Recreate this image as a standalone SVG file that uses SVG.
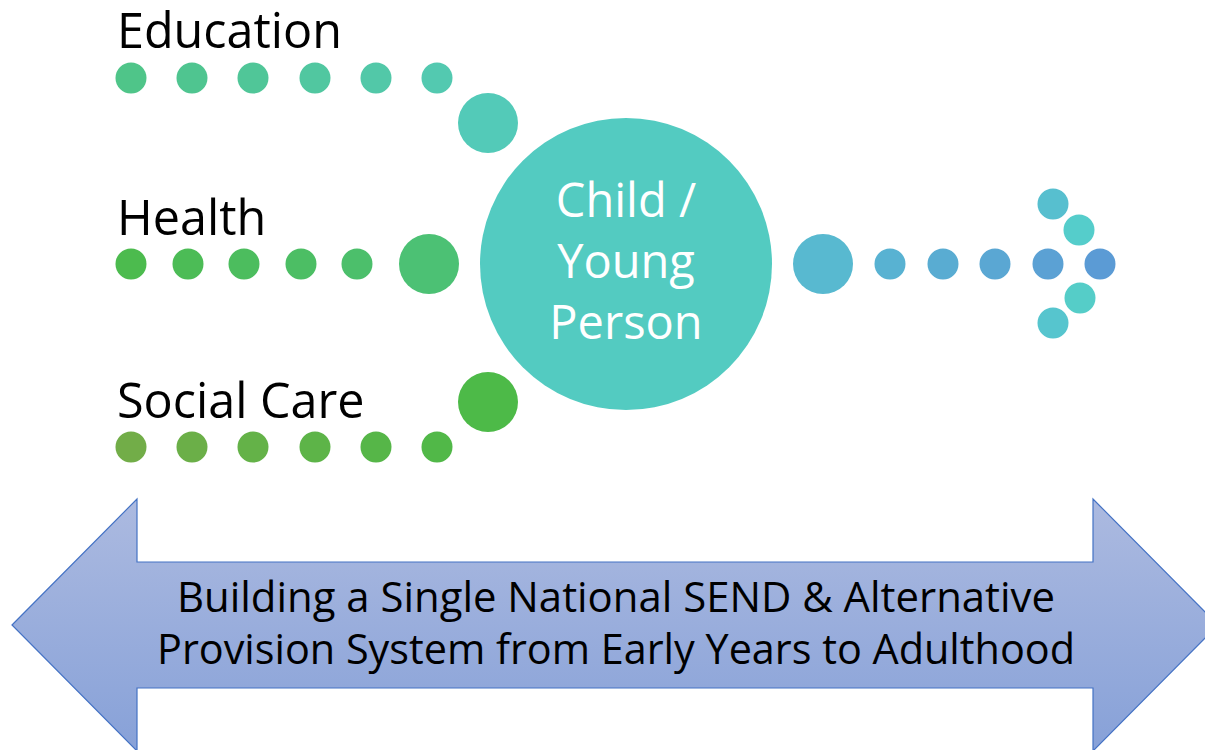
<svg xmlns="http://www.w3.org/2000/svg" width="1205" height="750" viewBox="0 0 1205 750">
<style>
.lbl{font-family:"Open Sans","Noto Sans","Liberation Sans",sans-serif;font-size:48.5px;fill:#000}
.ctr{font-family:"Open Sans","Noto Sans","Liberation Sans",sans-serif;font-size:47px;fill:#fff;text-anchor:middle}
.ban{font-family:"Open Sans","Noto Sans","Liberation Sans",sans-serif;font-size:41.5px;fill:#000;text-anchor:middle}
.d{stroke:none}
</style>
<defs>
<linearGradient id="arrowGrad" x1="0" y1="499" x2="0" y2="751" gradientUnits="userSpaceOnUse">
<stop offset="0" stop-color="#ACBAE0"/>
<stop offset="1" stop-color="#87A1D8"/>
</linearGradient>
</defs>
<rect width="1205" height="750" fill="#fff"/>

<g id="banner">
<polygon points="12,625 137,499 137,562 1093,562 1093,499 1218,625 1093,751 1093,688 137,688 137,751" fill="url(#arrowGrad)" stroke="#4472C4" stroke-width="1.2"/>
<text class="ban" x="616" y="612" textLength="878" lengthAdjust="spacingAndGlyphs">Building a Single National SEND &amp; Alternative</text>
<text class="ban" x="616" y="664" textLength="918" lengthAdjust="spacingAndGlyphs">Provision System from Early Years to Adulthood</text>
</g>

<g id="connectors">
<g id="education-dots">
<circle class="d" cx="131" cy="78" r="15.5" fill="#4FC589"/>
<circle class="d" cx="192" cy="78" r="15.5" fill="#4FC590"/>
<circle class="d" cx="253" cy="78" r="15.5" fill="#50C698"/>
<circle class="d" cx="315" cy="78" r="15.5" fill="#51C7A0"/>
<circle class="d" cx="376" cy="78" r="15.5" fill="#52C8A8"/>
<circle class="d" cx="437" cy="78" r="15.5" fill="#53C9B0"/>
<circle class="d" cx="488" cy="123" r="30" fill="#53CAB8"/>
</g>
<g id="health-dots">
<circle class="d" cx="131" cy="264" r="15.5" fill="#4CBB4E"/>
<circle class="d" cx="188" cy="264" r="15.5" fill="#4CBC56"/>
<circle class="d" cx="244" cy="264" r="15.5" fill="#4CBD5E"/>
<circle class="d" cx="301" cy="264" r="15.5" fill="#4CBE64"/>
<circle class="d" cx="357" cy="264" r="15.5" fill="#4CBF6B"/>
<circle class="d" cx="429" cy="264" r="30" fill="#4CC174"/>
</g>
<g id="socialcare-dots">
<circle class="d" cx="131" cy="447" r="15.5" fill="#72AD48"/>
<circle class="d" cx="192" cy="447" r="15.5" fill="#6BAF48"/>
<circle class="d" cx="253" cy="447" r="15.5" fill="#64B248"/>
<circle class="d" cx="315" cy="447" r="15.5" fill="#5DB448"/>
<circle class="d" cx="376" cy="447" r="15.5" fill="#56B648"/>
<circle class="d" cx="437" cy="447" r="15.5" fill="#51B848"/>
<circle class="d" cx="488" cy="402" r="30" fill="#4DBA48"/>
</g>
<g id="output-dots">
<circle class="d" cx="823" cy="264" r="30" fill="#58B9D0"/>
<circle class="d" cx="890" cy="264" r="15.5" fill="#58B2D2"/>
<circle class="d" cx="943" cy="264" r="15.5" fill="#59ACD2"/>
<circle class="d" cx="995" cy="264" r="15.5" fill="#5AA7D3"/>
<circle class="d" cx="1048" cy="264" r="15.5" fill="#5BA1D4"/>
<circle class="d" cx="1100" cy="264" r="15.5" fill="#5B9BD5"/>
<circle class="d" cx="1053" cy="204" r="15.5" fill="#57BFCF"/>
<circle class="d" cx="1079" cy="230" r="15.5" fill="#55CDCB"/>
<circle class="d" cx="1080" cy="298" r="15.5" fill="#55CDC8"/>
<circle class="d" cx="1053" cy="323" r="15.5" fill="#56C5CE"/>
</g>
</g>

<g id="education">
<text class="lbl" x="117" y="48">Education</text>
</g>
<g id="health">
<text class="lbl" x="117" y="235">Health</text>
</g>
<g id="socialcare">
<text class="lbl" x="117" y="418">Social Care</text>
</g>

<g id="child">
<circle cx="626" cy="264" r="146" fill="#53CBC1"/>
<text class="ctr" x="626" y="217">Child /</text>
<text class="ctr" x="626" y="278">Young</text>
<text class="ctr" x="626" y="339">Person</text>
</g>
</svg>
